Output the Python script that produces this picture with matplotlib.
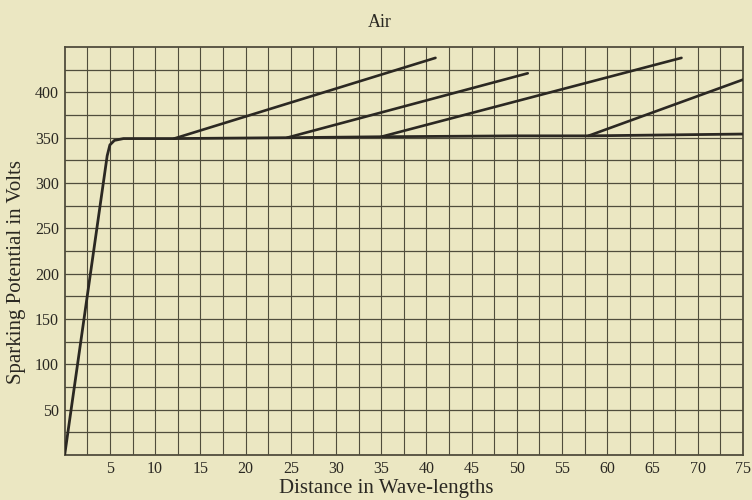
import matplotlib
matplotlib.use("Agg")
import matplotlib.pyplot as plt
import numpy as np

# main curve: steep rise then the 350 V plateau
main_x = [0, 4.7, 5.0, 5.5, 6.5, 12, 25, 35, 50, 58, 75]
main_y = [0, 330, 342, 347, 349, 349, 350, 351, 352, 352, 354]

# branch lines leaving the plateau
branch_x0 = [12.1, 24.6, 35.0, 57.9]
branch_y0 = [349, 350, 351, 352]
branch_x1 = [41.0, 51.2, 68.2, 75.0]
branch_y1 = [438, 421, 438, 414]

x_ticks = list(range(5, 80, 5))
y_ticks = list(range(50, 450, 50))

paper = "#EBE7C2"
ink = "#2b2822"
grid_ink = "#504d3c"
text_ink = "#2a2822"

plt.rcParams["font.family"] = ["Liberation Serif", "DejaVu Serif"]

fig = plt.figure(figsize=(7.52, 5.0), dpi=100)
fig.patch.set_facecolor(paper)
ax = fig.add_axes([0.086, 0.09, 0.902, 0.816])
ax.set_facecolor(paper)

ax.set_xlim(0, 75)
ax.set_ylim(0, 450)

# grid paper: 2.5 units across, 25 volts up
for gx in np.arange(2.5, 75, 2.5):
    ax.axvline(gx, color=grid_ink, lw=0.8, zorder=1)
for gy in np.arange(25, 450, 25):
    ax.axhline(gy, color=grid_ink, lw=0.9, zorder=1)

ax.plot(main_x, main_y, color=ink, lw=2.0, solid_capstyle="round", zorder=3)
for x0, y0, x1, y1 in zip(branch_x0, branch_y0, branch_x1, branch_y1):
    ax.plot([x0, x1], [y0, y1], color=ink, lw=1.9, solid_capstyle="round", zorder=3)

ax.set_xticks(x_ticks)
ax.set_xticklabels([str(v) for v in x_ticks])
ax.set_yticks(y_ticks)
ax.set_yticklabels([str(v) for v in y_ticks])
ax.tick_params(length=0, labelsize=11.5, colors=text_ink, pad=4)

for sp in ax.spines.values():
    sp.set_color(grid_ink)
    sp.set_linewidth(1.3)

fig.text(0.505, 0.955, "Air", ha="center", va="center", fontsize=13, color=text_ink)
fig.text(0.514, 0.024, "Distance in Wave-lengths", ha="center", va="center",
         fontsize=15, color=text_ink)
fig.text(0.022, 0.455, "Sparking Potential in Volts", ha="center", va="center",
         rotation=90, fontsize=15, color=text_ink)

fig.savefig("out.png", dpi=100, facecolor=paper)
